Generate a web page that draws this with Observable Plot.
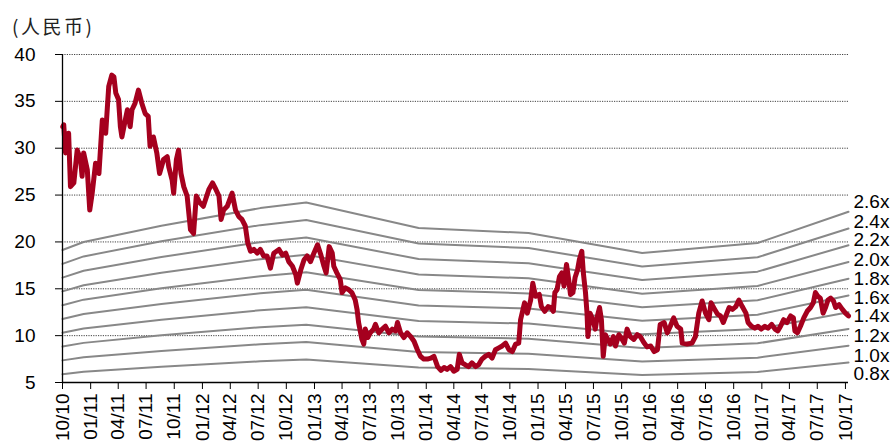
<!DOCTYPE html>
<html>
<head>
<meta charset="utf-8">
<script src="https://cdn.jsdelivr.net/npm/d3@7"></script>
<script src="https://cdn.jsdelivr.net/npm/@observablehq/plot@0.6"></script>
<style>
  html, body { margin: 0; padding: 0; background: #fff; }
  #wrap { position: relative; width: 893px; height: 448px; }
  #title { position: absolute; left: 12px; top: 16px; font-family: "Noto Sans CJK SC", sans-serif; font-size: 19px; line-height: 19px; letter-spacing: 2.5px; color: #222; z-index: 2; }
</style>
</head>
<body>
<div id="wrap"><div id="title">(人民币)</div></div>
<script>
// ---- Data ----
const unitLabel = "(人民币)";
const yTicks = [5, 10, 15, 20, 25, 30, 35, 40];
const gridValues = [10, 15, 20, 25, 30, 35, 40];
const xTickLabels = ["10/10","01/11","04/11","07/11","10/11","01/12","04/12","07/12","10/12","01/13","04/13","07/13","10/13","01/14","04/14","07/14","10/14","01/15","04/15","07/15","10/15","01/16","04/16","07/16","10/16","01/17","04/17","07/17","10/17"];
const xDomain = ["2010-10-01", "2017-10-11"];

const multiples = [0.8, 1.0, 1.2, 1.4, 1.6, 1.8, 2.0, 2.2, 2.4, 2.6];
const multipleLabels = ["0.8x","1.0x","1.2x","1.4x","1.6x","1.8x","2.0x","2.2x","2.4x","2.6x"];
const multipleLabelY = [5.8, 7.8, 9.9, 12.0, 14.0, 16.0, 18.0, 20.1, 22.1, 24.2];

// book value per share at report dates
const bvps = [
  ["2010-10-01", 7.36], ["2010-12-09", 7.69], ["2011-08-20", 8.36], ["2012-07-08", 9.08],
  ["2012-12-05", 9.31], ["2013-12-07", 8.26], ["2014-12-01", 8.06], ["2015-12-07", 7.24],
  ["2016-12-18", 7.65], ["2017-10-11", 8.93]
];

// share price
const price = [
["2010-10-02",32.3],["2010-10-05",32.5],["2010-10-11",29.5],["2010-10-21",31.6],["2010-10-27",25.9],
["2010-11-07",26.3],["2010-11-18",29.8],["2010-11-29",28.8],["2010-12-04",27.0],["2010-12-09",29.5],
["2010-12-21",27.7],["2010-12-29",23.4],["2011-01-06",25.2],["2011-01-17",28.4],["2011-01-28",27.3],
["2011-02-08",33.0],["2011-02-19",31.6],["2011-03-01",36.6],["2011-03-11",37.8],["2011-03-18",37.6],
["2011-03-24",35.9],["2011-04-02",35.2],["2011-04-08",32.3],["2011-04-13",31.2],["2011-04-24",33.0],
["2011-05-01",34.1],["2011-05-10",32.3],["2011-05-16",34.1],["2011-05-26",34.8],["2011-06-06",36.2],
["2011-06-17",34.8],["2011-06-28",33.7],["2011-07-08",33.4],["2011-07-14",30.2],["2011-07-25",31.2],
["2011-08-05",29.5],["2011-08-14",27.3],["2011-08-27",28.8],["2011-09-08",29.1],["2011-09-13",28.0],
["2011-09-24",26.6],["2011-09-29",25.2],["2011-10-08",28.8],["2011-10-15",29.8],["2011-10-23",27.3],
["2011-11-01",25.9],["2011-11-12",24.9],["2011-11-23",21.3],["2011-12-03",20.9],["2011-12-12",24.9],
["2011-12-23",24.2],["2012-01-04",23.8],["2012-01-11",24.5],["2012-01-22",25.6],["2012-02-03",26.3],
["2012-02-14",25.6],["2012-02-24",24.9],["2012-03-02",22.4],["2012-03-10",23.4],["2012-03-22",23.8],
["2012-04-07",25.2],["2012-04-18",23.4],["2012-04-29",22.7],["2012-05-09",22.4],["2012-05-20",21.7],
["2012-05-28",19.9],["2012-06-06",19.0],["2012-06-17",19.2],["2012-06-28",18.8],["2012-07-08",19.2],
["2012-07-19",18.5],["2012-07-30",18.5],["2012-08-10",17.2],["2012-08-21",18.8],["2012-09-07",19.2],
["2012-09-18",18.6],["2012-09-29",18.8],["2012-10-09",17.9],["2012-10-21",17.4],["2012-11-01",16.5],
["2012-11-06",15.6],["2012-11-17",17.0],["2012-11-28",18.1],["2012-12-08",18.5],["2012-12-19",17.9],
["2012-12-30",18.8],["2013-01-11",19.7],["2013-01-22",18.6],["2013-02-01",17.4],["2013-02-08",16.7],
["2013-02-18",19.5],["2013-02-28",18.8],["2013-03-05",17.4],["2013-03-15",16.7],["2013-03-26",16.0],
["2013-04-01",14.6],["2013-04-12",15.1],["2013-04-23",14.9],["2013-05-03",14.6],["2013-05-14",13.8],
["2013-05-20",12.8],["2013-05-25",11.4],["2013-06-05",9.6],["2013-06-11",9.1],["2013-06-16",10.7],
["2013-06-24",9.8],["2013-07-02",10.3],["2013-07-13",10.7],["2013-07-19",11.2],["2013-07-30",10.3],
["2013-08-10",10.7],["2013-08-21",11.0],["2013-09-01",10.3],["2013-09-12",10.7],["2013-09-23",10.5],
["2013-09-29",11.4],["2013-10-09",10.3],["2013-10-20",9.8],["2013-10-31",10.3],["2013-11-11",9.9],
["2013-11-22",9.4],["2013-12-03",8.5],["2013-12-13",7.8],["2013-12-24",7.5],["2014-01-05",7.5],
["2014-01-16",7.6],["2014-01-26",7.8],["2014-02-07",6.7],["2014-02-18",6.3],["2014-02-28",6.6],
["2014-03-10",6.4],["2014-03-21",6.7],["2014-04-01",6.2],["2014-04-12",6.4],["2014-04-19",8.0],
["2014-04-28",7.1],["2014-05-08",6.9],["2014-05-19",6.7],["2014-05-30",7.1],["2014-06-11",6.7],
["2014-06-21",6.9],["2014-07-02",7.5],["2014-07-13",7.8],["2014-07-24",8.0],["2014-08-04",7.6],
["2014-08-15",8.5],["2014-08-26",8.7],["2014-09-06",8.9],["2014-09-17",9.2],["2014-09-28",8.5],
["2014-10-09",8.3],["2014-10-20",9.1],["2014-10-30",9.2],["2014-11-05",11.7],["2014-11-13",12.8],
["2014-11-18",13.5],["2014-11-27",12.4],["2014-12-08",13.8],["2014-12-15",15.6],["2014-12-24",14.2],
["2015-01-05",14.4],["2015-01-12",13.1],["2015-01-23",12.6],["2015-02-03",13.1],["2015-02-12",13.0],
["2015-02-20",12.6],["2015-02-25",14.6],["2015-03-04",14.9],["2015-03-12",16.3],["2015-03-20",16.7],
["2015-03-27",15.3],["2015-04-04",17.6],["2015-04-11",16.0],["2015-04-17",14.4],["2015-04-25",14.6],
["2015-05-02",16.2],["2015-05-10",17.0],["2015-05-16",18.1],["2015-05-24",19.0],["2015-05-29",16.7],
["2015-06-05",14.6],["2015-06-10",12.4],["2015-06-13",9.9],["2015-06-20",12.4],["2015-06-29",11.7],
["2015-07-07",10.7],["2015-07-14",12.1],["2015-07-21",13.0],["2015-07-27",11.7],["2015-08-02",7.8],
["2015-08-09",10.1],["2015-08-17",9.6],["2015-08-25",9.1],["2015-09-04",9.9],["2015-09-11",8.9],
["2015-09-22",10.1],["2015-09-29",9.8],["2015-10-10",9.2],["2015-10-19",10.7],["2015-10-29",9.9],
["2015-11-10",9.6],["2015-11-21",10.1],["2015-12-01",9.9],["2015-12-12",9.3],["2015-12-23",8.8],
["2016-01-04",8.9],["2016-01-15",8.3],["2016-01-26",8.5],["2016-02-04",11.2],["2016-02-17",11.4],
["2016-02-27",10.3],["2016-03-08",11.0],["2016-03-19",11.9],["2016-03-30",11.0],["2016-04-11",10.7],
["2016-04-16",9.2],["2016-05-02",9.1],["2016-05-18",9.2],["2016-05-29",9.9],["2016-06-09",12.4],
["2016-06-20",13.7],["2016-07-01",12.4],["2016-07-12",11.7],["2016-07-19",13.5],["2016-07-31",12.8],
["2016-08-09",12.3],["2016-08-19",12.1],["2016-08-28",11.4],["2016-09-09",12.4],["2016-09-16",13.0],
["2016-09-27",12.8],["2016-10-08",13.1],["2016-10-18",13.8],["2016-10-29",13.1],["2016-11-10",12.4],
["2016-11-17",11.4],["2016-11-28",11.0],["2016-12-09",10.8],["2016-12-19",11.0],["2016-12-30",10.7],
["2017-01-11",11.0],["2017-01-21",10.8],["2017-02-02",11.2],["2017-02-13",10.7],["2017-02-22",10.5],
["2017-03-03",11.0],["2017-03-13",11.7],["2017-03-24",11.4],["2017-04-05",12.1],["2017-04-14",11.9],
["2017-04-19",10.5],["2017-04-27",10.3],["2017-05-07",11.0],["2017-05-18",11.9],["2017-05-29",12.6],
["2017-06-09",13.0],["2017-06-18",13.5],["2017-06-25",14.6],["2017-07-03",14.2],["2017-07-11",14.0],
["2017-07-20",12.4],["2017-07-28",13.0],["2017-08-05",13.8],["2017-08-14",14.0],["2017-08-23",13.7],
["2017-08-30",13.0],["2017-09-10",13.3],["2017-09-21",12.8],["2017-10-01",12.4],["2017-10-11",12.1]
];

// ---- Build ----
document.getElementById("title").textContent = unitLabel;
const parseDay = d3.utcParse("%Y-%m-%d");
const parseTick = d3.utcParse("%m/%y");
const tickDates = xTickLabels.map(parseTick);
const domain = xDomain.map(parseDay);
const priceData = price.map(([d, v]) => ({date: parseDay(d), value: v}));
const bandData = multiples.flatMap(m => bvps.map(([d, b]) => ({date: parseDay(d), value: b * m, m})));
const labelData = multiples.map((m, i) => ({date: domain[1], y: multipleLabelY[i], text: multipleLabels[i]}));

const chart = Plot.plot({
  width: 893,
  height: 448,
  marginLeft: 62,
  marginRight: 45,
  marginTop: 54,
  marginBottom: 66,
  style: {fontFamily: "'Liberation Sans', Arial, sans-serif", fontSize: "19px", color: "#000", background: "transparent"},
  x: {type: "utc", domain: domain},
  y: {domain: [5, 40]},
  marks: [
    Plot.ruleY(gridValues, {stroke: "#444", strokeWidth: 1, strokeDasharray: "1.2,1.2"}),
    Plot.line(bandData, {x: "date", y: "value", z: "m", stroke: "#888", strokeWidth: 2}),
    Plot.line(priceData, {x: "date", y: "value", stroke: "#a5001e", strokeWidth: 5, strokeLinejoin: "round"}),
    Plot.ruleX([domain[0]], {stroke: "#000", strokeWidth: 1.3}),
    Plot.ruleY([5], {stroke: "#000", strokeWidth: 1.3}),
    Plot.axisY(yTicks, {tickSize: 7, tickPadding: 20, label: null, fontSize: 19}),
    Plot.axisX(tickDates, {tickSize: 7, tickPadding: 4, tickRotate: -90, tickFormat: d3.utcFormat("%m/%y"), label: null, fontSize: 19}),
    Plot.text(labelData, {x: "date", y: "y", text: "text", textAnchor: "start", dx: 5, fontSize: 19, lineHeight: 0.9, fill: "#000"})
  ]
});
document.getElementById("wrap").appendChild(chart);
chart.style.position = "absolute";
chart.style.left = "0";
chart.style.top = "0";
</script>
</body>
</html>
